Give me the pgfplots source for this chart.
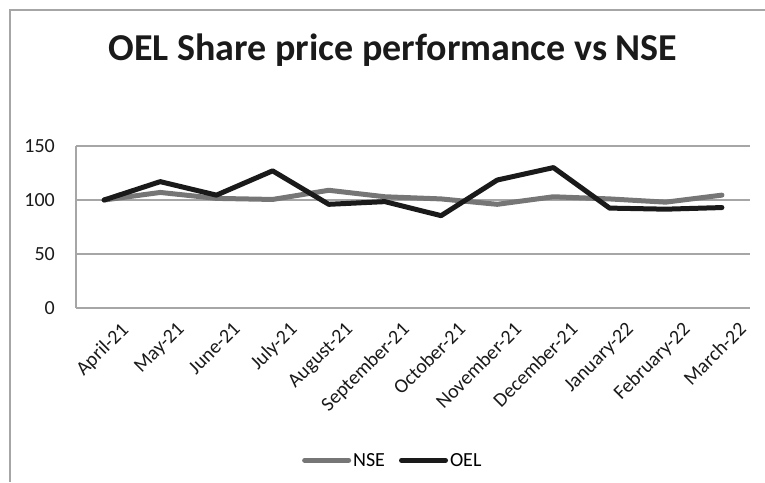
\documentclass[border=0pt]{standalone}
\usepackage{fontspec}
\setmainfont{Carlito}
\usepackage{pgfplots}
\pgfplotsset{compat=1.18}
\definecolor{nse}{HTML}{767676}
\definecolor{oel}{HTML}{1A1A1A}
\definecolor{gridc}{HTML}{A6A6A6}
\newcommand{\tickfont}{\fontsize{20}{24}\selectfont}
\begin{document}
\begin{tikzpicture}[x=1pt,y=1pt]
\useasboundingbox (0,0) rectangle (765,482);
\draw[gridc, line width=1.5pt] (10,0) -- (10,472) -- (765,472);
\node[font=\bfseries\fontsize{38}{44}\selectfont, text=oel] at (393,432) {OEL Share price performance vs NSE};
\begin{axis}[
  at={(76pt,174pt)}, anchor=south west,
  scale only axis, width=674pt, height=162pt,
  xmin=-0.5, xmax=11.5, ymin=0, ymax=150,
  ytick={0,50,100,150},
  xtick={0,...,11},
  xticklabels={April-21,May-21,June-21,July-21,August-21,September-21,October-21,November-21,December-21,January-22,February-22,March-22},
  axis lines*=left,
  axis line style={gridc, line width=1.2pt, -},
  ymajorgrids, grid style={gridc, line width=1.2pt},
  major tick length=0pt,
  tick style={draw=none},
  /pgf/number format/assume math mode=true,
  every tick label/.append style={font=\tickfont, text=oel},
  yticklabel style={anchor=east, inner sep=0pt, xshift=-21pt},
  xticklabel style={rotate=45, anchor=north east, inner sep=0pt, xshift=2pt, yshift=-20pt},
  clip=false,
  legend style={at={(0.47,-0.94)}, anchor=center, draw=none, fill=none,
    font=\tickfont, legend columns=2,
    /tikz/every even column/.append style={column sep=12pt}},
  legend image code/.code={\draw[#1, line cap=round] (0pt,0pt) -- (44pt,0pt);},
]
\addplot[nse, line width=5pt, line join=round, line cap=round] coordinates {
 (0,100) (1,107) (2,101.5) (3,100.5) (4,109) (5,103) (6,101) (7,96) (8,103) (9,101) (10,98) (11,104.5)};
\addlegendentry{NSE}
\addplot[oel, line width=5pt, line join=round, line cap=round] coordinates {
 (0,100) (1,117) (2,104.5) (3,127) (4,96) (5,98.5) (6,85.5) (7,118.5) (8,130) (9,92.5) (10,91.5) (11,93)};
\addlegendentry{OEL}
\end{axis}
\end{tikzpicture}
\end{document}
